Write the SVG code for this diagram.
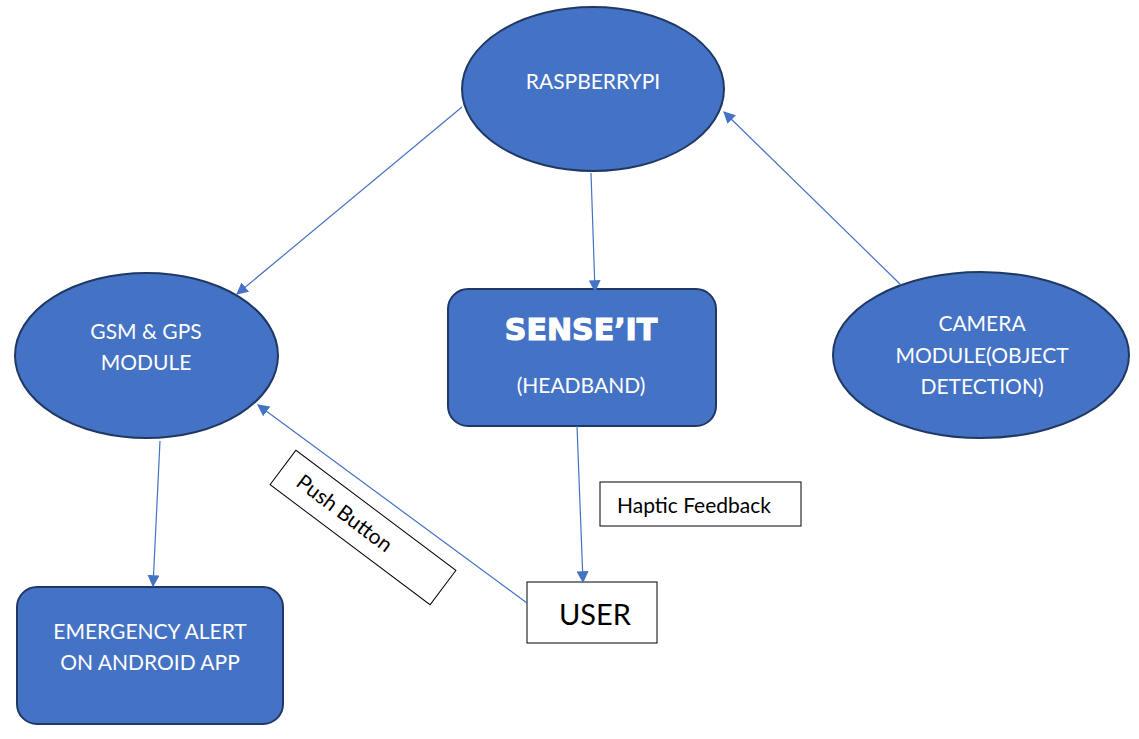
<svg xmlns="http://www.w3.org/2000/svg" width="1139" height="739" viewBox="0 0 1139 739">
<defs>
<marker id="arr" viewBox="0 0 10 10" refX="9" refY="5" markerWidth="12" markerHeight="12" markerUnits="userSpaceOnUse" orient="auto">
<path d="M0,0 L10,5 L0,10 z" fill="#4472C4"/>
</marker>
<style>
.node{fill:#4472C4;stroke:#203864;stroke-width:2}
.wt{fill:#fff;font-family:Lato,"Open Sans",sans-serif;font-size:21px;text-anchor:middle}
.bt{fill:#000;font-family:Lato,"Open Sans",sans-serif;font-size:21px}
.lbl{fill:#fff;stroke:#000;stroke-width:1}
.con{stroke:#4472C4;stroke-width:1.2;fill:none;marker-end:url(#arr)}
</style>
</defs>
<rect width="1139" height="739" fill="#fff"/>
<g id="raspberrypi">
<ellipse class="node" cx="593" cy="89" rx="131" ry="82"/>
<text class="wt" x="593" y="89">RASPBERRYPI</text>
</g>
<g id="gsm">
<ellipse class="node" cx="146.5" cy="355.5" rx="131.5" ry="82.5"/>
<text class="wt" x="146" y="339">GSM &amp; GPS</text>
<text class="wt" x="146" y="370">MODULE</text>
</g>
<g id="senseit">
<rect class="node" x="448" y="289" width="268" height="137" rx="20"/>
<text x="581" y="340" fill="#fff" stroke="#fff" stroke-width="1.2" font-family="'DejaVu Sans','Liberation Sans',sans-serif" font-weight="bold" font-size="30" text-anchor="middle">SENSE’IT</text>
<text class="wt" x="581" y="393">(HEADBAND)</text>
</g>
<g id="camera">
<ellipse class="node" cx="981" cy="355" rx="148" ry="83"/>
<text class="wt" x="982" y="331">CAMERA</text>
<text class="wt" x="982" y="363">MODULE(OBJECT</text>
<text class="wt" x="982" y="394">DETECTION)</text>
<line x1="899" y1="367" x2="989" y2="367" stroke="#3a6fd8" stroke-width="1"/>
</g>
<g id="emergency">
<rect class="node" x="17" y="587" width="266" height="137" rx="20"/>
<text class="wt" x="150" y="639">EMERGENCY ALERT</text>
<text class="wt" x="150" y="670">ON ANDROID APP</text>
</g>
<g id="user">
<rect class="lbl" x="527" y="582" width="130" height="61"/>
<text x="595" y="625" fill="#000" font-family="Lato,'Open Sans',sans-serif" font-size="29" text-anchor="middle">USER</text>
</g>
<g id="haptic">
<rect class="lbl" x="600" y="482" width="201" height="44"/>
<text class="bt" x="617" y="513">Haptic Feedback</text>
</g>
<g id="pushbutton" transform="translate(363,527.5) rotate(36.87)">
<rect class="lbl" x="-100" y="-21.5" width="200" height="43"/>
<text class="bt" x="-80" y="7">Push Button</text>
</g>
<g id="connectors">
<line class="con" x1="462" y1="107" x2="237" y2="294"/>
<line class="con" x1="591" y1="173" x2="595" y2="291"/>
<line class="con" x1="901" y1="285" x2="724" y2="112"/>
<line class="con" x1="160" y1="441" x2="153" y2="586"/>
<line class="con" x1="577" y1="426" x2="583" y2="582"/>
<line class="con" x1="527" y1="603" x2="258" y2="405"/>
</g>
</svg>
